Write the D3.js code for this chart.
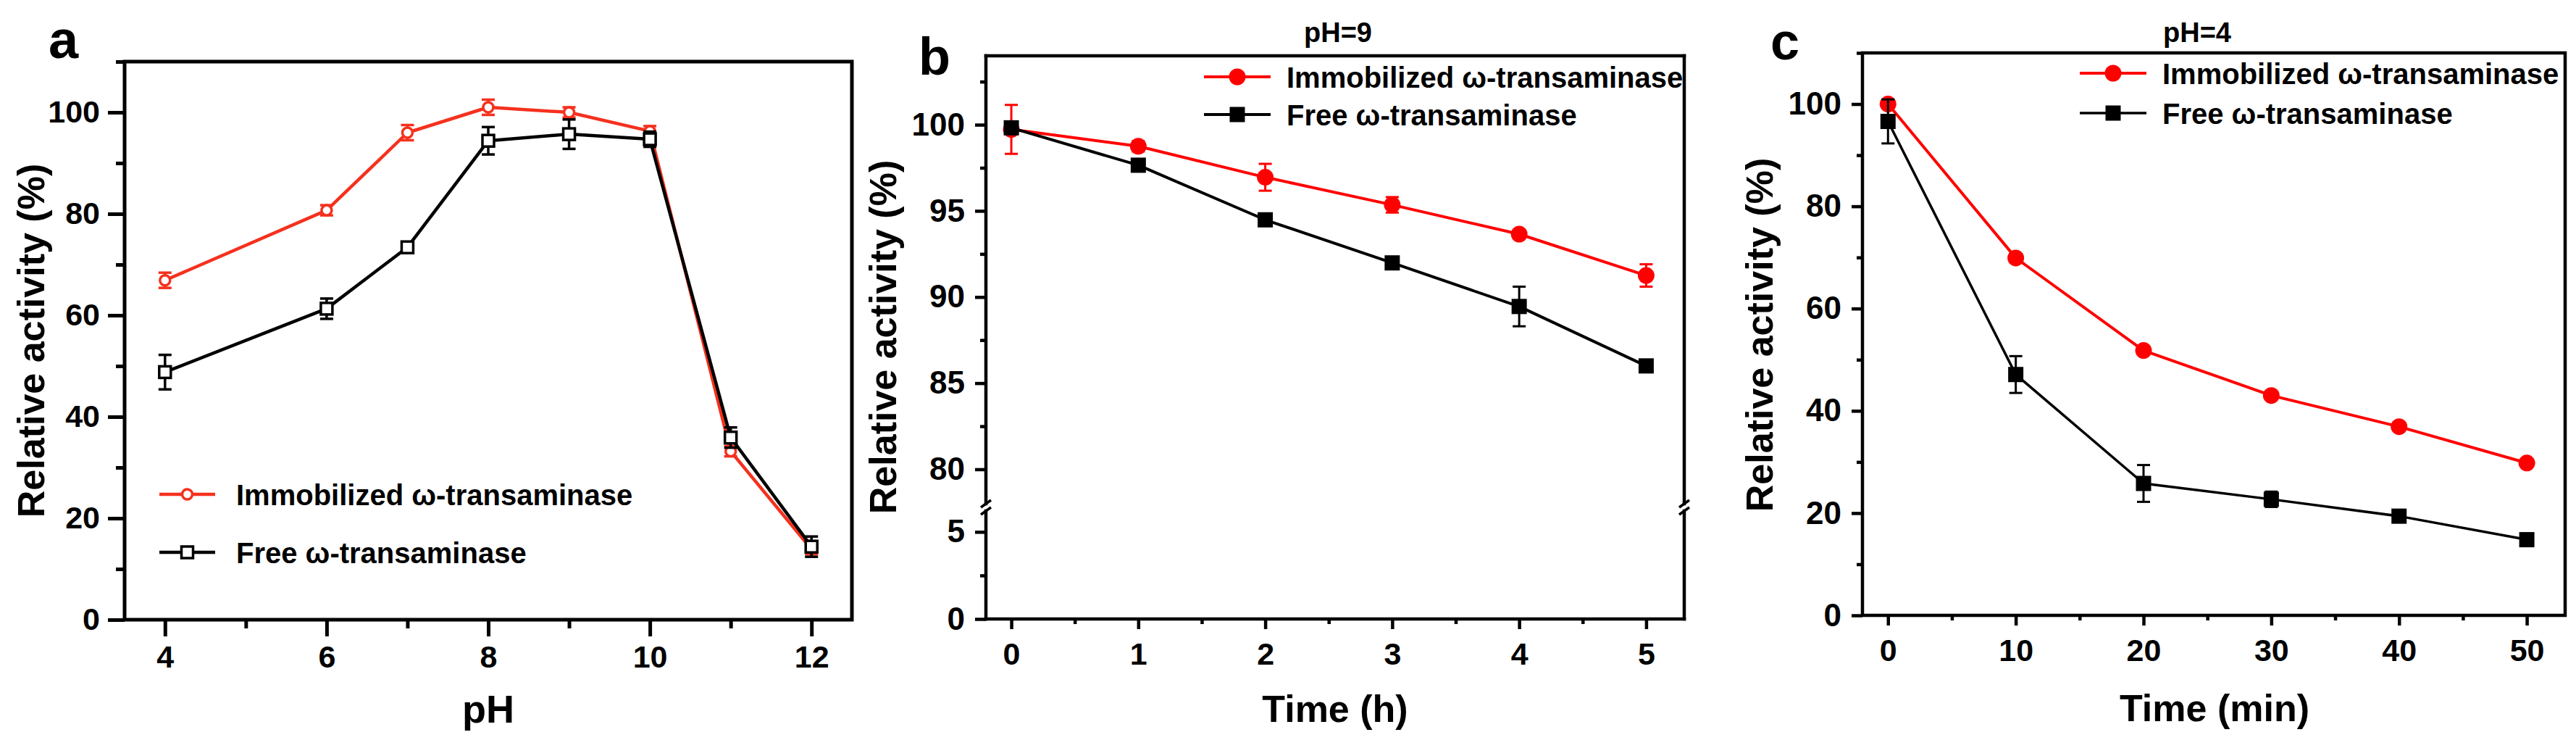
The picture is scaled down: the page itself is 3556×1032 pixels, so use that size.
<!DOCTYPE html>
<html lang="en">
<head>
<meta charset="utf-8">
<title>index.html</title>
<script src="https://cdnjs.cloudflare.com/ajax/libs/d3/7.8.5/d3.min.js"></script>
<style>
  body { margin: 0; background: #fff; }
  text { font-family: "Liberation Sans", Arial, sans-serif; font-weight: bold; fill: #000; }
</style>
</head>
<body>
<script>
// ---- data ----
// panel a : activity vs pH
var phValues   = [4, 6, 7, 8, 9, 10, 11, 12];
var immobA     = [66.9, 80.7, 96.0, 101.0, 100.0, 96.3, 33.2, 13.9];
var immobAErr  = [1.5, 1.0, 1.5, 1.5, 1.0, 1.0, 1.0, 1.0];
var freeA      = [48.8, 61.3, 73.4, 94.4, 95.7, 94.7, 35.9, 14.4];
var freeAErr   = [3.4, 2.0, 0.5, 2.7, 2.9, 1.5, 2.0, 2.0];

// panel b : stability at pH 9 (hours)
var timeB      = [0, 1, 2, 3, 4, 5];
var immobB     = [99.73, 98.75, 96.95, 95.35, 93.65, 91.25];
var immobBErr  = [1.42, 0.3, 0.78, 0.45, 0.25, 0.65];
var freeB      = [99.82, 97.65, 94.48, 91.98, 89.45, 86.0];
var freeBErr   = [0.2, 0.35, 0.25, 0.25, 1.15, 0.3];

// panel c : stability at pH 4 (minutes)
var timeC      = [0, 10, 20, 30, 40, 50];
var immobC     = [100.0, 69.9, 51.8, 43.0, 36.9, 29.8];
var immobCErr  = [0.8, 0.6, 0.6, 0.6, 0.6, 0.6];
var freeC      = [96.6, 47.1, 25.8, 22.7, 19.4, 14.8];
var freeCErr   = [4.3, 3.6, 3.6, 1.5, 0.9, 0.7];

// tick labels
var ticksAx = [4, 6, 8, 10, 12],  minorAx = [5, 7, 9, 11];
var ticksAy = [0, 20, 40, 60, 80, 100], minorAy = [10, 30, 50, 70, 90, 110];
var ticksBx = [0, 1, 2, 3, 4, 5], minorBx = [0.5, 1.5, 2.5, 3.5, 4.5];
var ticksByUp = [80, 85, 90, 95, 100], minorByUp = [82.5, 87.5, 92.5, 97.5, 102.5];
var ticksByLo = [0, 5], minorByLo = [2.5];
var ticksCx = [0, 10, 20, 30, 40, 50], minorCx = [5, 15, 25, 35, 45];
var ticksCy = [0, 20, 40, 60, 80, 100], minorCy = [10, 30, 50, 70, 90, 110];

var legendNames = ["Immobilized \u03c9-transaminase", "Free \u03c9-transaminase"];

var svg = d3.select("body").append("svg")
    .attr("width", 3556)
    .attr("height", 1032);

// helpers
function zip(xs, ys, es) {
  return xs.map(function(x, i) { return {x: x, y: ys[i], e: es[i]}; });
}

function styleAxis(g, fontSize, width) {
  g.select(".domain").remove();
  g.selectAll(".tick line").attr("stroke", "#000").attr("stroke-width", width);
  g.selectAll(".tick text").style("font-size", fontSize + "px").attr("fill", "#000");
}

function drawSeries(g, data, x, y, opt) {
  var line = d3.line().x(function(d) { return x(d.x); }).y(function(d) { return y(d.y); });
  g.append("path").datum(data)
    .attr("d", line)
    .attr("fill", "none")
    .attr("stroke", opt.color)
    .attr("stroke-width", opt.lineWidth)
    .attr("stroke-linejoin", "round");

  // error bars
  var eb = g.append("g").attr("stroke", opt.color).attr("stroke-width", opt.errWidth);
  data.forEach(function(d) {
    var cx = x(d.x), y1 = y(d.y + d.e), y2 = y(d.y - d.e);
    eb.append("line").attr("x1", cx).attr("x2", cx).attr("y1", y1).attr("y2", y2);
    eb.append("line").attr("x1", cx - opt.cap).attr("x2", cx + opt.cap).attr("y1", y1).attr("y2", y1);
    eb.append("line").attr("x1", cx - opt.cap).attr("x2", cx + opt.cap).attr("y1", y2).attr("y2", y2);
  });

  data.forEach(function(d) {
    drawMarker(g, x(d.x), y(d.y), opt);
  });
}

function drawMarker(g, cx, cy, opt) {
  if (opt.shape == "circle") {
    g.append("circle")
      .attr("cx", cx).attr("cy", cy).attr("r", opt.size)
      .attr("fill", opt.open ? "#fff" : opt.color)
      .attr("stroke", opt.color)
      .attr("stroke-width", opt.open ? opt.markerStroke : 0);
  } else {
    g.append("rect")
      .attr("x", cx - opt.size).attr("y", cy - opt.size)
      .attr("width", opt.size * 2).attr("height", opt.size * 2)
      .attr("fill", opt.open ? "#fff" : opt.color)
      .attr("stroke", opt.color)
      .attr("stroke-width", opt.open ? opt.markerStroke : 0);
  }
}

function drawLegend(g, x0, x1, ys, textX, opts) {
  opts.forEach(function(opt, i) {
    g.append("line")
      .attr("x1", x0).attr("x2", x1).attr("y1", ys[i]).attr("y2", ys[i])
      .attr("stroke", opt.color).attr("stroke-width", opt.lineWidth);
    drawMarker(g, (x0 + x1) / 2, ys[i], opt);
    g.append("text")
      .attr("x", textX).attr("y", ys[i] + 15)
      .style("font-size", "40px")
      .text(legendNames[i]);
  });
}

function yTitle(x, y) {
  svg.append("text")
    .attr("transform", "translate(" + x + "," + y + ") rotate(-90)")
    .attr("text-anchor", "middle")
    .style("font-size", "52px")
    .text("Relative activity (%)");
}

// ================= panel a =================
var xA = d3.scaleLinear().domain([3.5, 12.5]).range([172, 1176]);
var yA = d3.scaleLinear().domain([0, 110]).range([855, 85]);

var gAxA = svg.append("g").attr("transform", "translate(0,855)")
  .call(d3.axisBottom(xA).tickValues(ticksAx).tickSize(23).tickPadding(12).tickFormat(d3.format("d")));
styleAxis(gAxA, 43, 5);
svg.append("g").attr("transform", "translate(0,855)")
  .call(d3.axisBottom(xA).tickValues(minorAx).tickSize(12).tickFormat(""))
  .call(function(g) { styleAxis(g, 43, 5); });

var gAyA = svg.append("g").attr("transform", "translate(172,0)")
  .call(d3.axisLeft(yA).tickValues(ticksAy).tickSize(23).tickPadding(11).tickFormat(d3.format("d")));
styleAxis(gAyA, 43, 5);
svg.append("g").attr("transform", "translate(172,0)")
  .call(d3.axisLeft(yA).tickValues(minorAy).tickSize(12).tickFormat(""))
  .call(function(g) { styleAxis(g, 43, 5); });

svg.append("rect")
  .attr("x", 172).attr("y", 85).attr("width", 1176 - 172).attr("height", 855 - 85)
  .attr("fill", "none").attr("stroke", "#000").attr("stroke-width", 5);

var redA = {color: "#f5311e", lineWidth: 4.5, errWidth: 3.5, cap: 9, shape: "circle", size: 7, open: true, markerStroke: 3.5};
var blackA = {color: "#000", lineWidth: 4.5, errWidth: 3.5, cap: 9, shape: "square", size: 8, open: true, markerStroke: 3.5};

var plotA = svg.append("g");
drawSeries(plotA, zip(phValues, immobA, immobAErr), xA, yA, redA);
drawSeries(plotA, zip(phValues, freeA, freeAErr), xA, yA, blackA);
drawLegend(svg.append("g"), 220, 297, [682, 762], 326, [redA, blackA]);

svg.append("text").attr("x", 674).attr("y", 997).attr("text-anchor", "middle")
  .style("font-size", "54px").text("pH");
yTitle(61, 470);
svg.append("text").attr("x", 67).attr("y", 80).style("font-size", "74px").text("a");

// ================= panel b (broken y axis) =================
var bL = 1361, bR = 2325, bT = 77, bB = 854, brkTop = 695, brkBot = 705;
var xB = d3.scaleLinear().domain([-0.2, 5.3]).range([bL, bR]);
var yBUp = d3.scaleLinear().domain([78, 104]).range([brkTop, bT]);
var yBLo = d3.scaleLinear().domain([0, 6.2]).range([bB, brkBot]);

svg.append("g").attr("transform", "translate(0," + bB + ")")
  .call(d3.axisBottom(xB).tickValues(ticksBx).tickSize(14).tickPadding(18).tickFormat(d3.format("d")))
  .call(function(g) { styleAxis(g, 43, 4.5); });
svg.append("g").attr("transform", "translate(0," + bB + ")")
  .call(d3.axisBottom(xB).tickValues(minorBx).tickSize(7).tickFormat(""))
  .call(function(g) { styleAxis(g, 43, 4.5); });

[[yBUp, ticksByUp, minorByUp], [yBLo, ticksByLo, minorByLo]].forEach(function(s) {
  svg.append("g").attr("transform", "translate(" + bL + ",0)")
    .call(d3.axisLeft(s[0]).tickValues(s[1]).tickSize(15).tickPadding(14).tickFormat(d3.format("d")))
    .call(function(g) { styleAxis(g, 44, 4.5); });
  svg.append("g").attr("transform", "translate(" + bL + ",0)")
    .call(d3.axisLeft(s[0]).tickValues(s[2]).tickSize(8).tickFormat(""))
    .call(function(g) { styleAxis(g, 44, 4.5); });
});

// frame of panel b, side lines split at the break
var frameB = svg.append("g").attr("stroke", "#000").attr("stroke-width", 4.5).attr("fill", "none")
  .attr("stroke-linecap", "square");
frameB.append("line").attr("x1", bL).attr("x2", bR).attr("y1", bT).attr("y2", bT);
frameB.append("line").attr("x1", bL).attr("x2", bR).attr("y1", bB).attr("y2", bB);
[bL, bR].forEach(function(x) {
  frameB.append("line").attr("x1", x).attr("x2", x).attr("y1", bT).attr("y2", brkTop);
  frameB.append("line").attr("x1", x).attr("x2", x).attr("y1", brkBot).attr("y2", bB);
  frameB.append("line").attr("x1", x - 7).attr("x2", x + 7).attr("y1", brkTop + 5).attr("y2", brkTop - 5)
    .attr("stroke-width", 3.5).attr("stroke-linecap", "butt");
  frameB.append("line").attr("x1", x - 7).attr("x2", x + 7).attr("y1", brkBot + 5).attr("y2", brkBot - 5)
    .attr("stroke-width", 3.5).attr("stroke-linecap", "butt");
});

var redB = {color: "#ff0000", lineWidth: 4, errWidth: 3, cap: 9, shape: "circle", size: 11.5, open: false};
var blackB = {color: "#000", lineWidth: 4, errWidth: 3, cap: 9, shape: "square", size: 10.5, open: false};

var plotB = svg.append("g");
drawSeries(plotB, zip(timeB, immobB, immobBErr), xB, yBUp, redB);
drawSeries(plotB, zip(timeB, freeB, freeBErr), xB, yBUp, blackB);
drawLegend(svg.append("g"), 1662, 1754, [106, 158], 1776, [redB, blackB]);

svg.append("text").attr("x", 1843).attr("y", 996).attr("text-anchor", "middle")
  .style("font-size", "52px").text("Time (h)");
svg.append("text").attr("x", 1847).attr("y", 58).attr("text-anchor", "middle")
  .style("font-size", "38px").text("pH=9");
yTitle(1237, 465);
svg.append("text").attr("x", 1268).attr("y", 103).style("font-size", "72px").text("b");

// ================= panel c =================
var cL = 2571, cR = 3541, cT = 73, cB = 849;
var xC = d3.scaleLinear().domain([-2, 53]).range([cL, cR]);
var yC = d3.scaleLinear().domain([0, 110]).range([cB, cT]);

svg.append("g").attr("transform", "translate(0," + cB + ")")
  .call(d3.axisBottom(xC).tickValues(ticksCx).tickSize(14).tickPadding(18).tickFormat(d3.format("d")))
  .call(function(g) { styleAxis(g, 43, 4.5); });
svg.append("g").attr("transform", "translate(0," + cB + ")")
  .call(d3.axisBottom(xC).tickValues(minorCx).tickSize(7).tickFormat(""))
  .call(function(g) { styleAxis(g, 43, 4.5); });
svg.append("g").attr("transform", "translate(" + cL + ",0)")
  .call(d3.axisLeft(yC).tickValues(ticksCy).tickSize(15).tickPadding(14).tickFormat(d3.format("d")))
  .call(function(g) { styleAxis(g, 44, 4.5); });
svg.append("g").attr("transform", "translate(" + cL + ",0)")
  .call(d3.axisLeft(yC).tickValues(minorCy).tickSize(8).tickFormat(""))
  .call(function(g) { styleAxis(g, 44, 4.5); });

svg.append("rect")
  .attr("x", cL).attr("y", cT).attr("width", cR - cL).attr("height", cB - cT)
  .attr("fill", "none").attr("stroke", "#000").attr("stroke-width", 4.5);

var redC = {color: "#ff0000", lineWidth: 4, errWidth: 3, cap: 9, shape: "circle", size: 11.5, open: false};
var blackC = {color: "#000", lineWidth: 3.5, errWidth: 3, cap: 9, shape: "square", size: 10.5, open: false};

var plotC = svg.append("g");
drawSeries(plotC, zip(timeC, immobC, immobCErr), xC, yC, redC);
drawSeries(plotC, zip(timeC, freeC, freeCErr), xC, yC, blackC);
drawLegend(svg.append("g"), 2871, 2963, [101, 156], 2985, [redC, blackC]);

svg.append("text").attr("x", 3057).attr("y", 995).attr("text-anchor", "middle")
  .style("font-size", "52px").text("Time (min)");
svg.append("text").attr("x", 3033).attr("y", 58).attr("text-anchor", "middle")
  .style("font-size", "38px").text("pH=4");
yTitle(2447, 462);
svg.append("text").attr("x", 2444).attr("y", 82).style("font-size", "72px").text("c");
</script>
</body>
</html>
